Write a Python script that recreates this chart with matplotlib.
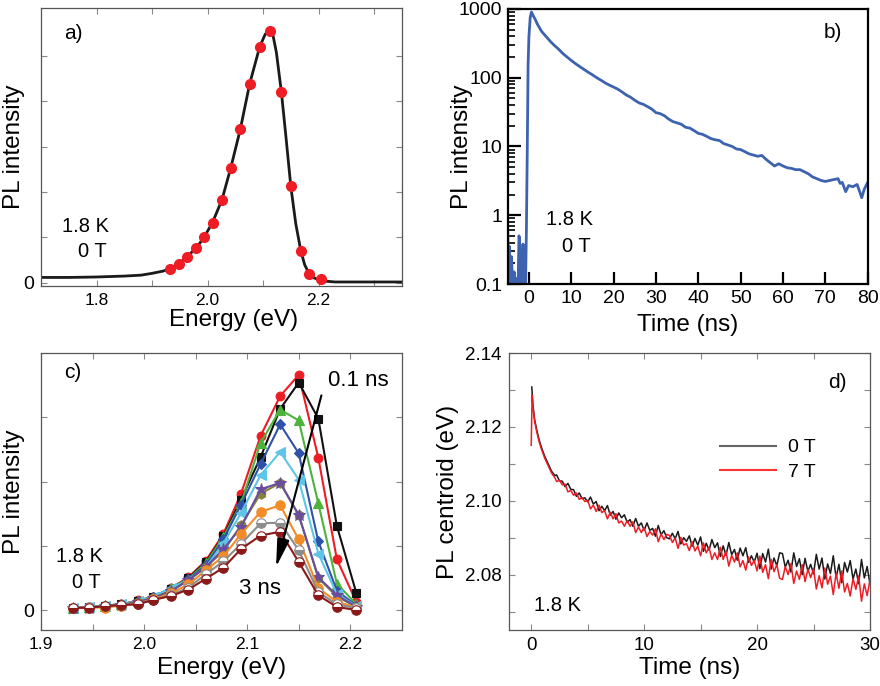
import numpy as np
import matplotlib
matplotlib.use("Agg")
import matplotlib.pyplot as plt
from matplotlib.ticker import FixedLocator, FixedFormatter, NullFormatter, LogLocator
from matplotlib.lines import Line2D

plt.rcParams['font.family'] = ['Liberation Sans', 'DejaVu Sans']

# ---- a) time-integrated PL spectrum ----
E_a_dots = [1.932, 1.949, 1.963, 1.980, 1.994, 2.009, 2.026, 2.042, 2.059,
            2.076, 2.094, 2.112, 2.133, 2.150, 2.168, 2.183, 2.205]
I_a_dots = [0.31, 0.42, 0.58, 0.77, 1.01, 1.33, 1.83, 2.54, 3.38,
            4.39, 5.20, 5.55, 4.21, 2.13, 0.71, 0.20, 0.09]
E_a_fit = [1.70, 1.75, 1.80, 1.85, 1.88, 1.90, 1.92, 1.932, 1.949, 1.963, 1.980,
           1.994, 2.009, 2.026, 2.042, 2.059, 2.076, 2.094, 2.104, 2.112, 2.118,
           2.124, 2.133, 2.141, 2.150, 2.159, 2.168, 2.175, 2.183, 2.19, 2.20,
           2.21, 2.23, 2.26, 2.30, 2.35]
I_a_fit = [0.12, 0.12, 0.13, 0.15, 0.17, 0.21, 0.26, 0.31, 0.42, 0.58, 0.77,
           1.01, 1.33, 1.83, 2.54, 3.38, 4.39, 5.20, 5.48, 5.57, 5.45,
           5.08, 4.21, 3.25, 2.13, 1.30, 0.71, 0.40, 0.20, 0.12, 0.07,
           0.04, 0.02, 0.02, 0.02, 0.02]

# ---- b) PL decay ----
t_b = [-5.0, -4.8, -4.6, -4.4, -4.1, -3.8, -3.5, -3.2, -2.9, -2.6, -2.35, -2.2,
       -2.0, -1.8, -1.6, -1.4, -1.2, -1.0, -0.8, -0.6, -0.4, -0.2, 0.0, 0.3,
       0.6, 1.0, 1.5, 2.0, 3, 4, 5, 6, 7, 8, 9, 10, 11, 12, 13, 14, 15, 16,
       17, 18, 19, 20, 21, 22, 23, 24, 25, 26, 27, 28, 29, 30, 31, 32, 33,
       34, 35, 36, 37, 38, 39, 40, 41, 42, 43, 44, 45, 46, 47, 48, 49, 50,
       51, 52, 53, 54, 55, 56, 57, 58, 59, 60, 61, 62, 63, 64, 65, 66, 67,
       68, 69, 70, 71, 72, 73, 73.5, 74, 74.8, 75.5, 76.5, 77.5, 78, 78.6,
       79.2, 80]
I_b = [0.6, 0.08, 0.35, 0.06, 0.25, 0.07, 0.15, 0.06, 0.12, 0.07, 0.5, 0.45,
       0.08, 0.3, 0.1, 0.38, 0.07, 0.3, 0.1, 0.6, 8, 150, 400, 750,
       900, 800, 700, 600, 470, 400, 340, 295, 260, 225, 200, 178, 160, 145,
       132, 120, 110, 100, 92, 84, 78, 73, 68, 62, 56, 52, 47, 43, 41, 38,
       35, 31, 30, 28, 25, 23, 22, 21, 19, 18.5, 17, 15.5, 15, 14, 13, 12.5,
       12.2, 11, 10.5, 10, 9.2, 9, 8.4, 7.8, 7.5, 7.2, 7.4, 6.5, 5.8, 5.2,
       5.6, 5.2, 4.9, 4.8, 4.6, 4.6, 4.3, 4.0, 3.6, 3.4, 3.2, 3.1, 3.2, 3.3,
       3.4, 2.9, 3.0, 2.2, 2.7, 2.6, 2.8, 2.3, 1.8, 2.4, 3.0]

# ---- c) time-resolved spectra ----
E_c = [1.931, 1.947, 1.962, 1.978, 1.994, 2.009, 2.026, 2.043, 2.060,
       2.077, 2.094, 2.113, 2.132, 2.150, 2.169, 2.187, 2.206]
c_black = [0.04, 0.05, 0.07, 0.09, 0.14, 0.20, 0.33, 0.50, 0.75, 1.15, 1.72, 2.38, 3.13, 3.54, 2.98, 1.31, 0.26]
c_red = [0.04, 0.05, 0.07, 0.09, 0.15, 0.21, 0.34, 0.51, 0.77, 1.19, 1.81, 2.71, 3.33, 3.66, 2.37, 0.79, 0.12]
c_green = [0.04, 0.05, 0.07, 0.09, 0.14, 0.21, 0.34, 0.49, 0.73, 1.14, 1.66, 2.60, 3.12, 2.95, 1.66, 0.41, 0.09]
c_blue = [0.03, 0.04, 0.06, 0.07, 0.13, 0.20, 0.32, 0.48, 0.70, 1.10, 1.64, 2.27, 2.89, 2.44, 1.07, 0.30, 0.07]
c_cyan = [0.04, 0.05, 0.07, 0.09, 0.14, 0.21, 0.34, 0.47, 0.67, 1.04, 1.51, 2.10, 2.46, 2.03, 0.88, 0.25, 0.06]
c_olive = [0.04, 0.05, 0.06, 0.08, 0.13, 0.19, 0.30, 0.46, 0.67, 0.92, 1.32, 1.81, 1.98, 1.48, 0.50, 0.21, 0.05]
c_purple = [0.03, 0.04, 0.06, 0.08, 0.12, 0.19, 0.29, 0.47, 0.67, 0.95, 1.29, 1.88, 1.98, 1.48, 0.51, 0.23, 0.05]
c_orange = [0.03, 0.04, 0.04, 0.07, 0.10, 0.17, 0.26, 0.40, 0.62, 0.84, 1.18, 1.53, 1.63, 1.10, 0.34, 0.13, 0.04]
c_gray = [0.04, 0.05, 0.06, 0.08, 0.10, 0.16, 0.23, 0.35, 0.56, 0.76, 1.03, 1.35, 1.36, 0.93, 0.28, 0.09, 0.03]
c_darkred = [0.03, 0.04, 0.06, 0.08, 0.09, 0.16, 0.22, 0.32, 0.49, 0.66, 0.95, 1.16, 1.22, 0.75, 0.23, 0.05, 0.0]

# ---- d) PL centroid vs time ----
t_d_early = [0.05, 0.15, 0.3, 0.5, 0.7, 0.9, 1.2, 1.5, 1.8, 2.1]
t_d7_early = [0.0, 0.08, 0.15, 0.3, 0.5, 0.7, 0.9, 1.2, 1.5, 1.8, 2.1]
t_d_late = [2.25, 2.5, 2.75, 3.0, 3.25, 3.5, 3.75, 4.0, 4.25, 4.5, 4.75, 5.0,
            5.25, 5.5, 5.75, 6.0, 6.25, 6.5, 6.75, 7.0, 7.25, 7.5, 7.75, 8.0,
            8.25, 8.5, 8.75, 9.0, 9.25, 9.5, 9.75, 10.0, 10.25, 10.5, 10.75, 11.0,
            11.25, 11.5, 11.75, 12.0, 12.25, 12.5, 12.75, 13.0, 13.25, 13.5, 13.75, 14.0,
            14.25, 14.5, 14.75, 15.0, 15.25, 15.5, 15.75, 16.0, 16.25, 16.5, 16.75, 17.0,
            17.25, 17.5, 17.75, 18.0, 18.25, 18.5, 18.75, 19.0, 19.25, 19.5, 19.75, 20.0,
            20.25, 20.5, 20.75, 21.0, 21.25, 21.5, 21.75, 22.0, 22.25, 22.5, 22.75, 23.0,
            23.25, 23.5, 23.75, 24.0, 24.25, 24.5, 24.75, 25.0, 25.25, 25.5, 25.75, 26.0,
            26.25, 26.5, 26.75, 27.0, 27.25, 27.5, 27.75, 28.0, 28.25, 28.5, 28.75, 29.0,
            29.25, 29.5, 29.75, 30.0]
d_0T_early = [2.1308, 2.1260, 2.1220, 2.1190, 2.1165, 2.1145, 2.1120, 2.1100, 2.1080, 2.1068]
d_0T_late = [2.1070, 2.1054, 2.1053, 2.1038, 2.1047, 2.1031, 2.1030, 2.1012, 2.1021, 2.1006, 2.1008, 2.0997,
             2.1010, 2.0991, 2.0998, 2.0973, 2.0985, 2.0973, 2.0987, 2.0961, 2.0971, 2.0950, 2.0967, 2.0954,
             2.0962, 2.0941, 2.0949, 2.0931, 2.0952, 2.0931, 2.0940, 2.0920, 2.0940, 2.0920, 2.0925, 2.0904,
             2.0933, 2.0908, 2.0919, 2.0900, 2.0897, 2.0912, 2.0897, 2.0917, 2.0883, 2.0900, 2.0890, 2.0905,
             2.0877, 2.0898, 2.0880, 2.0902, 2.0863, 2.0885, 2.0866, 2.0895, 2.0873, 2.0886, 2.0849, 2.0878,
             2.0852, 2.0887, 2.0854, 2.0868, 2.0839, 2.0872, 2.0851, 2.0873, 2.0833, 2.0851, 2.0834, 2.0858,
             2.0816, 2.0857, 2.0834, 2.0869, 2.0815, 2.0845, 2.0824, 2.0859, 2.0857, 2.0820, 2.0839, 2.0807,
             2.0859, 2.0822, 2.0843, 2.0800, 2.0844, 2.0809, 2.0828, 2.0802, 2.0855, 2.0815, 2.0845, 2.0788,
             2.0829, 2.0803, 2.0851, 2.0791, 2.0828, 2.0778, 2.0833, 2.0807, 2.0838, 2.0788, 2.0815, 2.0775,
             2.0841, 2.0791, 2.0822, 2.0775]
d_7T_early = [2.1150, 2.1286, 2.1255, 2.1215, 2.1185, 2.1160, 2.1140, 2.1115, 2.1095, 2.1075, 2.1062]
d_7T_late = [2.1052, 2.1056, 2.1043, 2.1045, 2.1024, 2.1028, 2.1015, 2.1021, 2.1004, 2.1008, 2.0998, 2.1001,
             2.0978, 2.0988, 2.0971, 2.0988, 2.0968, 2.0973, 2.0951, 2.0969, 2.0951, 2.0965, 2.0940, 2.0945,
             2.0931, 2.0946, 2.0931, 2.0943, 2.0914, 2.0929, 2.0914, 2.0927, 2.0903, 2.0917, 2.0907, 2.0924,
             2.0889, 2.0910, 2.0895, 2.0909, 2.0906, 2.0887, 2.0899, 2.0871, 2.0901, 2.0880, 2.0884, 2.0865,
             2.0889, 2.0864, 2.0877, 2.0851, 2.0886, 2.0859, 2.0874, 2.0841, 2.0859, 2.0841, 2.0874, 2.0841,
             2.0863, 2.0823, 2.0852, 2.0834, 2.0859, 2.0821, 2.0838, 2.0812, 2.0848, 2.0825, 2.0838, 2.0810,
             2.0850, 2.0806, 2.0827, 2.0789, 2.0841, 2.0808, 2.0827, 2.0790, 2.0787, 2.0822, 2.0800, 2.0830,
             2.0776, 2.0810, 2.0787, 2.0827, 2.0781, 2.0814, 2.0792, 2.0816, 2.0761, 2.0797, 2.0764, 2.0818,
             2.0774, 2.0796, 2.0746, 2.0804, 2.0763, 2.0810, 2.0753, 2.0776, 2.0742, 2.0789, 2.0760, 2.0797,
             2.0728, 2.0775, 2.0743, 2.0786]

LBL = 17.5
TXT = 14.5


def thin_axes(ax, labelsize=12.5):
    for s in ax.spines.values():
        s.set_color('#555555')
        s.set_linewidth(0.9)
    ax.tick_params(which='both', direction='in', top=True, right=True, length=4,
                   width=0.8, color='#888888', labelsize=labelsize, pad=5)


fig = plt.figure(figsize=(8.8, 6.86), dpi=100)

# a)
ax = fig.add_axes([0.0466, 0.583, 0.410, 0.405])
ax.plot(E_a_fit, I_a_fit, color='#1a1a1a', lw=2.0, zorder=2)
ax.plot(E_a_dots, I_a_dots, 'o', color='#ee1c24', ms=7, mec='#ee1c24', zorder=3)
ax.set_xlim(1.7, 2.35)
ax.set_ylim(-0.07, 6.05)
ax.xaxis.set_major_locator(FixedLocator([1.8, 2.0, 2.2]))
ax.xaxis.set_minor_locator(FixedLocator([1.9, 2.1, 2.3]))
ax.set_xticklabels(['1.8', '2.0', '2.2'])
ax.set_yticks([0, 1, 2, 3, 4, 5])
ax.set_yticklabels(['0', '', '', '', '', ''])
thin_axes(ax)
ax.tick_params(axis='y', labelsize=14)
ax.set_xlabel('Energy (eV)', fontsize=LBL)
ax.set_ylabel('PL intensity', fontsize=LBL)
ax.xaxis.set_label_coords(0.535, -0.122)
ax.xaxis.label.set_va('center')
ax.yaxis.set_label_coords(-0.075, 0.5)
ax.yaxis.label.set_va('center')
ax.text(0.089, 0.91, 'a)', transform=ax.transAxes, fontsize=15, ha='center', va='center')
ax.text(0.122, 0.216, '1.8 K', transform=ax.transAxes, fontsize=TXT, ha='center', va='center')
ax.text(0.141, 0.126, '0 T', transform=ax.transAxes, fontsize=TXT, ha='center', va='center')

# b)
ax = fig.add_axes([0.577, 0.586, 0.409, 0.401])
ax.plot(t_b, I_b, color='#3d62b0', lw=2.0)
ax.set_yscale('log')
ax.set_xlim(-5, 80)
ax.set_ylim(0.1, 1000)
ax.set_xticks(range(0, 81, 10))
ax.yaxis.set_major_locator(FixedLocator([0.1, 1, 10, 100, 1000]))
ax.yaxis.set_major_formatter(FixedFormatter(['0.1', '1', '10', '100', '1000']))
ax.yaxis.set_minor_locator(LogLocator(base=10, subs=np.arange(2, 10), numticks=20))
ax.yaxis.set_minor_formatter(NullFormatter())
for s in ax.spines.values():
    s.set_color('black')
    s.set_linewidth(1.6)
ax.tick_params(which='major', direction='in', length=9, width=1.6, labelsize=14, pad=4)
ax.tick_params(which='minor', direction='in', length=5, width=1.2)
ax.set_xlabel('Time (ns)', fontsize=LBL)
ax.set_ylabel('PL intensity', fontsize=LBL)
ax.xaxis.set_label_coords(0.5, -0.149)
ax.xaxis.label.set_va('center')
ax.yaxis.set_label_coords(-0.128, 0.5)
ax.yaxis.label.set_va('center')
ax.text(0.903, 0.913, 'b)', transform=ax.transAxes, fontsize=15, ha='center', va='center')
ax.text(0.172, 0.233, '1.8 K', transform=ax.transAxes, fontsize=TXT, ha='center', va='center')
ax.text(0.192, 0.138, '0 T', transform=ax.transAxes, fontsize=TXT, ha='center', va='center')

# c)
ax = fig.add_axes([0.0466, 0.0816, 0.410, 0.4038])
half = dict(fillstyle='bottom', markerfacecoloralt='white')
series_c = [
    (c_red, '#ee1c24', 'o', 6.3, {}),
    (c_black, '#111111', 's', 5.6, {}),
    (c_green, '#4db33d', '^', 6.8, {}),
    (c_blue, '#2f52a8', 'D', 5.6, {}),
    (c_cyan, '#5ec5e6', '<', 6.8, {}),
    (c_olive, '#85853a', 'h', 6.8, {}),
    (c_purple, '#6a4d9e', '*', 9, {}),
    (c_orange, '#f28c28', 'o', 6.8, {}),
    (c_gray, '#8c8c8c', 'o', 6.8, half),
    (c_darkred, '#8a1a1a', 'o', 6.8, half),
]
for vals, col, mk, ms, extra in series_c:
    ax.plot(E_c, vals, color=col, lw=1.5, marker=mk, ms=ms, mfc=col, mec=col,
            mew=0.8, **extra)
ax.annotate('', xy=(2.128, 0.67), xytext=(2.172, 3.34),
            arrowprops=dict(arrowstyle='-|>,head_length=1.0,head_width=0.22',
                            mutation_scale=17, color='black', lw=1.5,
                            shrinkA=0, shrinkB=0))
ax.text(2.208, 3.58, '0.1 ns', fontsize=16, ha='center', va='center')
ax.text(2.112, 0.34, '3 ns', fontsize=16, ha='center', va='center')
ax.set_xlim(1.9, 2.25)
ax.set_ylim(-0.31, 4.0)
ax.xaxis.set_major_locator(FixedLocator([1.9, 2.0, 2.1, 2.2]))
ax.xaxis.set_minor_locator(FixedLocator([1.95, 2.05, 2.15]))
ax.set_xticklabels(['1.9', '2.0', '2.1', '2.2'])
ax.set_yticks([0, 1, 2, 3])
ax.set_yticklabels(['0', '', '', ''])
thin_axes(ax)
ax.tick_params(axis='y', labelsize=14)
ax.set_xlabel('Energy (eV)', fontsize=LBL)
ax.set_ylabel('PL intensity', fontsize=LBL)
ax.xaxis.set_label_coords(0.5, -0.137)
ax.xaxis.label.set_va('center')
ax.yaxis.set_label_coords(-0.075, 0.5)
ax.yaxis.label.set_va('center')
ax.text(0.089, 0.928, 'c)', transform=ax.transAxes, fontsize=15, ha='center', va='center')
ax.text(0.108, 0.264, '1.8 K', transform=ax.transAxes, fontsize=TXT, ha='center', va='center')
ax.text(0.127, 0.17, '0 T', transform=ax.transAxes, fontsize=TXT, ha='center', va='center')

# d)
ax = fig.add_axes([0.578, 0.0816, 0.4106, 0.4038])
ax.plot(t_d_early + t_d_late, d_0T_early + d_0T_late, color='#1a1a1a', lw=1.1)
ax.plot(t_d7_early + t_d_late, d_7T_early + d_7T_late, color='#ee1c24', lw=1.1)
ax.set_xlim(-2, 30)
ax.set_ylim(2.065, 2.14)
ax.xaxis.set_major_locator(FixedLocator([0, 10, 20, 30]))
ax.xaxis.set_minor_locator(FixedLocator([5, 15, 25]))
ax.yaxis.set_major_locator(FixedLocator([2.08, 2.10, 2.12, 2.14]))
ax.yaxis.set_minor_locator(FixedLocator([2.07, 2.09, 2.11, 2.13]))
ax.set_yticklabels(['2.08', '2.10', '2.12', '2.14'])
thin_axes(ax, labelsize=13.5)
ax.set_xlabel('Time (ns)', fontsize=LBL)
ax.set_ylabel('PL centroid (eV)', fontsize=LBL)
ax.xaxis.set_label_coords(0.5, -0.137)
ax.xaxis.label.set_va('center')
ax.yaxis.set_label_coords(-0.169, 0.5)
ax.yaxis.label.set_va('center')
handles = [Line2D([], [], color='#666666', lw=1.5), Line2D([], [], color='#ff3333', lw=1.5)]
ax.legend(handles, ['0 T', '7 T'], loc='upper left', bbox_to_anchor=(0.585, 0.69),
          frameon=False, fontsize=14, handlelength=2.9, handletextpad=0.6,
          labelspacing=0.35, borderpad=0, borderaxespad=0)
ax.text(0.909, 0.895, 'd)', transform=ax.transAxes, fontsize=15, ha='center', va='center')
ax.text(0.136, 0.09, '1.8 K', transform=ax.transAxes, fontsize=TXT, ha='center', va='center')

fig.savefig('out.png', dpi=100)
